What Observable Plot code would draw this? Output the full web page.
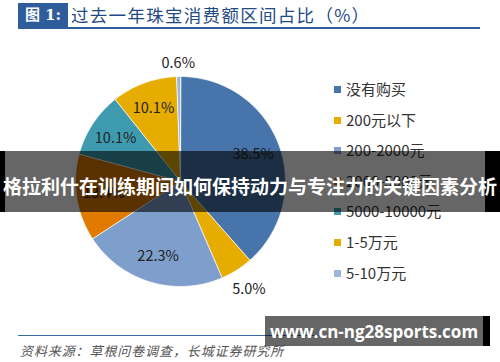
<!DOCTYPE html>
<html>
<head>
<meta charset="utf-8">
<script src="https://cdn.jsdelivr.net/npm/d3@7"></script>
<script src="https://cdn.jsdelivr.net/npm/@observablehq/plot@0.6"></script>
<style>
  html, body { margin: 0; padding: 0; background: #fff; }
  body { width: 500px; height: 362px; position: relative; overflow: hidden; font-family: "Noto Sans CJK SC", "Noto Sans", sans-serif; }
  .abs { position: absolute; }
  #titlebox { left: 18px; top: 3px; width: 50px; height: 24px; background: #2F5D9B; color: #fff; font-family: "DejaVu Serif", "Noto Sans CJK SC", serif; font-weight: bold; font-size: 15px; line-height: 24px; text-align: center; }
  #titletext { left: 71px; top: 2px; font-size: 17.5px; color: #1F4A86; line-height: 26px; letter-spacing: 1.3px; }
  #titleline { left: 18px; top: 27px; width: 462px; height: 2px; background: #2F5D9B; }
  #chart { left: 0; top: 40px; }
  #legend { left: 334px; top: 79px; }
  .li { position: absolute; left: 0; height: 20px; white-space: nowrap; font-size: 15px; color: #333; line-height: 20px; }
  .sw { display: inline-block; width: 7px; height: 7px; margin-right: 5px; vertical-align: 2px; }
  #srcline { left: 18px; top: 335px; width: 300px; height: 1px; background: #3B6AA8; }
  #src { left: 20px; top: 341px; font-size: 13px; letter-spacing: 0.9px; color: #555; font-style: italic; white-space: nowrap; }
  #banner { left: 0; top: 151px; width: 500px; height: 61px; }
  #banner .bk1 { position: absolute; left: 0; top: 0; width: 5px; height: 61px; background: #000; }
  #banner .bk2 { position: absolute; left: 485px; top: 0; width: 15px; height: 61px; background: #000; }
  #banner .gr { position: absolute; left: 5px; top: 0; width: 480px; height: 61px; background: rgba(0,0,0,0.6); }
  #banner .tx { position: absolute; left: 0; top: 20px; width: 500px; text-align: center; color: #fff; font-weight: bold; font-size: 19px; line-height: 30px; white-space: nowrap; }
  #wm { left: 265px; top: 316px; width: 225px; height: 30px; }
  #wm .gr { position: absolute; left: 0; top: 0; width: 218px; height: 30px; background: rgba(0,0,0,0.6); }
  #wm .bk { position: absolute; left: 218px; top: 0; width: 7px; height: 30px; background: #000; }
  #wm .tx { position: absolute; left: 0; top: 3px; width: 218px; text-align: center; color: #fff; font-weight: bold; font-size: 17px; line-height: 26px; font-family: "Open Sans", "DejaVu Sans", sans-serif; white-space: nowrap; }
</style>
</head>
<body>
<div id="titlebox" class="abs">图 1:</div>
<div id="titletext" class="abs">过去一年珠宝消费额区间占比（%）</div>
<div id="titleline" class="abs"></div>
<div id="chart" class="abs"></div>
<div id="legend" class="abs"></div>
<div id="srcline" class="abs"></div>
<div id="src" class="abs">资料来源：草根问卷调查，长城证券研究所</div>
<div id="banner" class="abs"><div class="bk1"></div><div class="gr"></div><div class="bk2"></div><div class="tx">格拉利什在训练期间如何保持动力与专注力的关键因素分析</div></div>
<div id="wm" class="abs"><div class="gr"></div><div class="bk"></div><div class="tx">www.cn-ng28sports.com</div></div>
<script>
const categories = ["没有购买", "200元以下", "200-2000元", "2000-5000元", "5000-10000元", "1-5万元", "5-10万元"];
const values = [38.5, 5.0, 22.3, 13.4, 10.1, 10.1, 0.6];
const colors = ["#4674AB", "#E7AC00", "#7E9FCC", "#E07A00", "#3E9BAF", "#E7AC00", "#9DB4DB"];

const rows = categories.map((c, i) => ({cat: c, value: values[i]}));
const arcs = d3.pie().sort(null).value(d => d.value)(rows);

// slice polygons (unit circle, angle 0 at top, clockwise)
const pts = [];
arcs.forEach(a => {
  pts.push({cat: a.data.cat, x: 0, y: 0});
  const n = Math.max(2, Math.ceil((a.endAngle - a.startAngle) / 0.01));
  for (let k = 0; k <= n; k++) {
    const t = a.startAngle + (a.endAngle - a.startAngle) * k / n;
    pts.push({cat: a.data.cat, x: Math.sin(t), y: Math.cos(t)});
  }
});

// labels
const R = 105;
const labels = arcs.map(a => {
  const m = (a.startAngle + a.endAngle) / 2;
  const small = a.data.value < 6;
  const r = small ? 1 + (6 + Math.abs(Math.sin(m)) * 20 + Math.abs(Math.cos(m)) * 7) / R : 0.74;
  return {x: Math.sin(m) * r, y: Math.cos(m) * r, text: a.data.value.toFixed(1) + "%"};
});

const W = 360, H = 280, cx = 180, cy = 141;
const chart = Plot.plot({
  width: W, height: H, margin: 0,
  x: {domain: [-cx / R, (W - cx) / R], axis: null},
  y: {domain: [-(H - cy) / R, cy / R], axis: null},
  color: {domain: categories, range: colors},
  style: {overflow: "visible", background: "transparent"},
  marks: [
    Plot.line(pts, {x: "x", y: "y", z: "cat", fill: "cat", stroke: "white", strokeWidth: 0.8, curve: "linear-closed"}),
    Plot.text(labels, {x: "x", y: "y", text: "text", fontSize: 14.5, fill: "#222", fontFamily: "Noto Sans CJK SC, Open Sans, sans-serif"})
  ]
});
document.getElementById("chart").appendChild(chart);

// legend
const lg = document.getElementById("legend");
categories.forEach((c, i) => {
  const d = document.createElement("div");
  d.className = "li";
  d.style.top = (i * 30.6) + "px";
  d.innerHTML = `<span class="sw" style="background:${colors[i]}"></span>${c}`;
  lg.appendChild(d);
});
</script>
</body>
</html>
